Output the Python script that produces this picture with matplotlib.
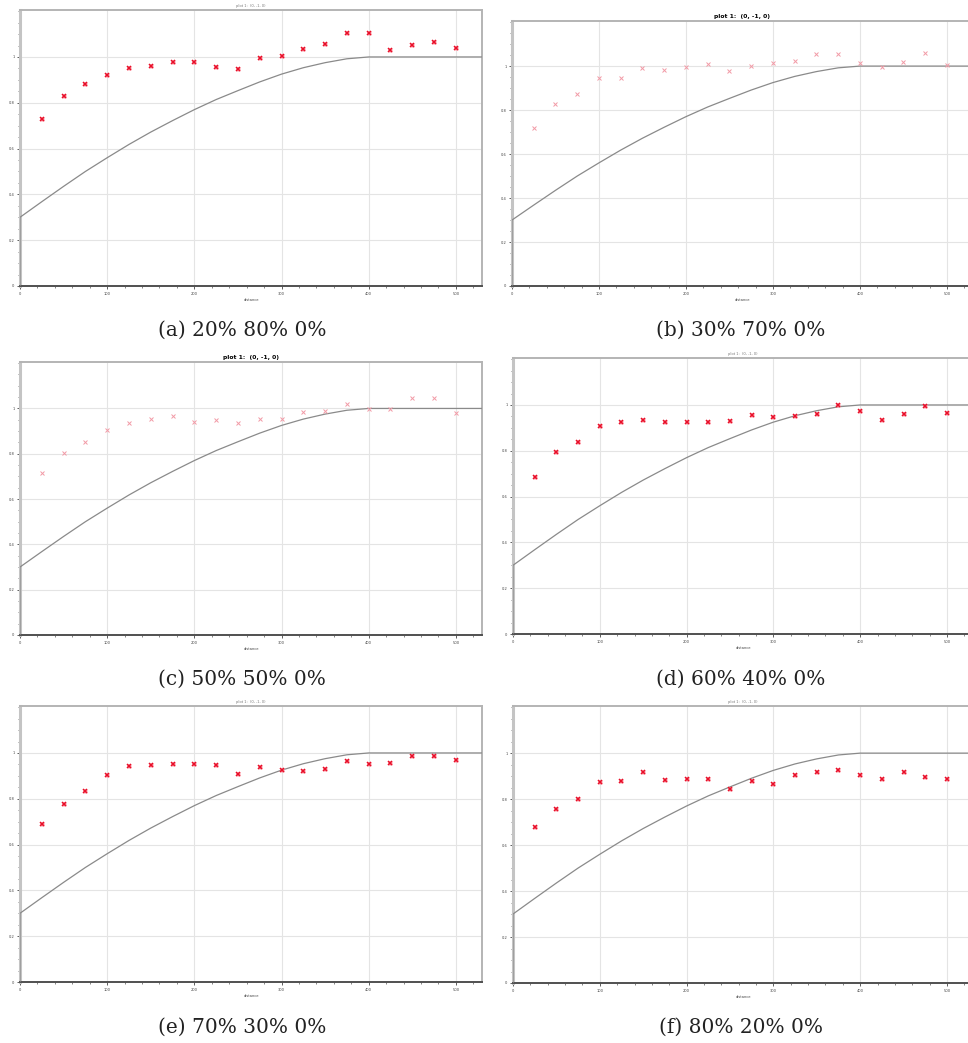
import matplotlib.pyplot as plt
import numpy as np
from matplotlib.ticker import MultipleLocator

# sample positions of the measured points
x_points = np.arange(25, 501, 25)

vals_a = [0.73, 0.831, 0.883, 0.920, 0.951, 0.961, 0.980, 0.977, 0.956, 0.946,
          0.997, 1.003, 1.035, 1.058, 1.105, 1.105, 1.031, 1.052, 1.067, 1.041]
vals_b = [0.72, 0.829, 0.873, 0.945, 0.945, 0.992, 0.980, 0.998, 1.009, 0.977,
          1.001, 1.015, 1.024, 1.053, 1.053, 1.014, 0.994, 1.020, 1.059, 1.006]
vals_c = [0.717, 0.803, 0.854, 0.904, 0.936, 0.955, 0.965, 0.941, 0.949, 0.936,
          0.955, 0.952, 0.985, 0.990, 1.020, 0.998, 0.996, 1.044, 1.046, 0.981]
vals_d = [0.686, 0.796, 0.839, 0.906, 0.926, 0.933, 0.926, 0.926, 0.926, 0.930,
          0.956, 0.946, 0.952, 0.962, 1.000, 0.974, 0.934, 0.962, 0.994, 0.963]
vals_e = [0.69, 0.777, 0.832, 0.905, 0.941, 0.946, 0.950, 0.953, 0.949, 0.909,
          0.940, 0.924, 0.922, 0.930, 0.965, 0.950, 0.955, 0.987, 0.988, 0.968]
vals_f = [0.678, 0.757, 0.800, 0.873, 0.880, 0.917, 0.881, 0.886, 0.888, 0.845,
          0.878, 0.867, 0.907, 0.916, 0.926, 0.903, 0.887, 0.920, 0.897, 0.887]

# reference curve (same in every panel)
curve_x = [0, 0, 25, 50, 75, 100, 125, 150, 175, 200, 225, 250, 275, 300,
           325, 350, 375, 400, 530]
curve_y = [0, 0.30, 0.368, 0.435, 0.50, 0.56, 0.618, 0.672, 0.722, 0.77, 0.814,
           0.853, 0.891, 0.925, 0.953, 0.975, 0.992, 1.0, 1.0]

captions = ['(a) 20% 80% 0%', '(b) 30% 70% 0%', '(c) 50% 50% 0%',
            '(d) 60% 40% 0%', '(e) 70% 30% 0%', '(f) 80% 20% 0%']
panel_vals = [vals_a, vals_b, vals_c, vals_d, vals_e, vals_f]
title = 'plot 1:  (0, -1, 0)'
x_ticks = [0, 100, 200, 300, 400, 500]
y_ticks = [0, 0.2, 0.4, 0.6, 0.8, 1]
y_labels = ['0', '0.2', '0.4', '0.6', '0.8', '1']

# axes boxes in pixels: left, top, right, bottom
boxes = [(20, 10, 482, 286), (512, 21, 973, 286),
         (20, 362, 482, 635), (513, 358, 973, 634),
         (20, 706, 482, 982), (513, 706, 973, 983)]
caption_y = [330, 330, 679, 679, 1027, 1027]
bold_title = [False, True, True, False, False, False]
W, H = 968, 1043

fig = plt.figure(figsize=(W / 100, H / 100), dpi=100)

for i, (l, t, r, b) in enumerate(boxes):
    ax = fig.add_axes([l / W, 1 - b / H, (r - l) / W, (b - t) / H])
    ax.set_xlim(0, 530)
    ax.set_ylim(0, 1.205)
    ax.grid(True, color='#e4e4e4', lw=0.8)
    ax.set_axisbelow(True)
    ax.plot(curve_x, curve_y, color='#8a8a8a', lw=0.9, zorder=3)
    if bold_title[i]:
        # faded markers
        ax.plot(x_points, panel_vals[i], ls='none', marker='x', ms=2.6, mew=0.7,
                color='#f29aa6', zorder=4)
        ax.set_title(title, fontsize=4.3, fontweight='bold', pad=2.5)
    else:
        ax.plot(x_points, panel_vals[i], ls='none', marker='s', ms=3.2,
                color='#ff9aa6', mec='none', zorder=4)
        ax.plot(x_points, panel_vals[i], ls='none', marker='x', ms=3.2, mew=1.1,
                color='#e8102a', zorder=5)
        ax.set_title(title, fontsize=2.6, color='#777777', pad=2)
    ax.set_xticks(x_ticks)
    ax.set_xticklabels([str(v) for v in x_ticks])
    ax.set_yticks(y_ticks)
    ax.set_yticklabels(y_labels)
    ax.xaxis.set_minor_locator(MultipleLocator(20))
    ax.yaxis.set_minor_locator(MultipleLocator(0.05))
    ax.tick_params(labelsize=2.6, colors='#444444', length=2.5, width=0.6, pad=1.5)
    ax.tick_params(which='minor', length=1.5, width=0.5, colors='#555555')
    ax.set_xlabel('distance', fontsize=2.6, color='#444444', labelpad=1.5)
    ax.spines['left'].set_color('#c4c4c4')
    ax.spines['left'].set_linewidth(2.2)
    ax.spines['top'].set_color('#b4b4b4')
    ax.spines['top'].set_linewidth(1.4)
    ax.spines['right'].set_color('#b4b4b4')
    ax.spines['right'].set_linewidth(1.4)
    ax.spines['bottom'].set_color('#505050')
    ax.spines['bottom'].set_linewidth(1.4)
    cx = 242 if l < 300 else 741
    fig.text(cx / W, 1 - caption_y[i] / H, captions[i], fontsize=14.5,
             family='DejaVu Serif', color='#222222', ha='center', va='center')

fig.savefig('out.png', dpi=100)
